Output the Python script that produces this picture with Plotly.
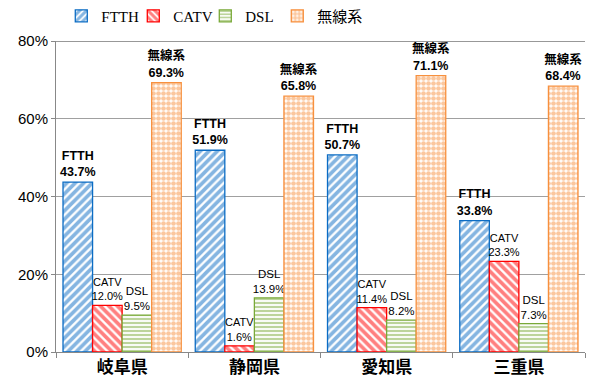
import plotly.graph_objects as go

categories = ["岐阜県", "静岡県", "愛知県", "三重県"]
ftth = [0.437, 0.519, 0.507, 0.338]
catv = [0.120, 0.016, 0.114, 0.233]
dsl = [0.095, 0.139, 0.082, 0.073]
wireless = [0.693, 0.658, 0.711, 0.684]

series = [
    ("FTTH", ftth, "#0b6cc4", "/", 12.5, True, 6, 0.62),
    ("CATV", catv, "#ff0000", "\\", 11, False, 6, 0.62),
    ("DSL", dsl, "#79a938", "-", 11.5, False, 4, 0.55),
    ("無線系", wireless, "#f7903e", ".", 12.5, True, 5, 0.7),
]

fig = go.Figure()
for name, vals, color, shape, fsize, bold, psize, psol in series:
    lab = [f"{name}<br>{v*100:.1f}%" for v in vals]
    if bold:
        lab = [f"<b>{t}</b>" for t in lab]
    fig.add_trace(go.Bar(
        name=name, x=categories, y=vals,
        text=lab, textposition="outside", cliponaxis=False, constraintext="none",
        textfont=dict(family="Arial, Noto Sans CJK JP", size=fsize, color="#000"),
        marker=dict(color="white", line=dict(color=color, width=1.3),
                    pattern=dict(shape=shape, fgcolor=color, bgcolor="white",
                                 size=psize, solidity=psol, fillmode="overlay")),
    ))
# empty spacer legend entry so the last legend label is not clipped
fig.add_trace(go.Scatter(name=" ", x=[None], y=[None], mode="markers", showlegend=True,
                         hoverinfo="skip", marker=dict(color="rgba(0,0,0,0)", size=1)))

fig.update_layout(
    width=600, height=385,
    margin=dict(l=56, r=15, t=41, b=33, autoexpand=False),
    paper_bgcolor="white", plot_bgcolor="white",
    barmode="group", bargap=0.106, bargroupgap=0,
    showlegend=True,
    legend=dict(orientation="h", x=0.01, y=1.08, xanchor="left", yanchor="middle",
                font=dict(family="Liberation Serif, Noto Sans CJK JP", size=15, color="#000"),
                itemwidth=30, tracegroupgap=0, entrywidth=27),
)
fig.update_yaxes(range=[0, 0.8], tickvals=[0, 0.2, 0.4, 0.6, 0.8], tickformat=".0%",
                 showgrid=True, gridcolor="#a0a0a0", gridwidth=1,
                 showline=True, linecolor="#888", ticks="outside", ticklen=4, tickcolor="#888",
                 tickfont=dict(family="Arial", size=15, color="#000"), zeroline=False)
fig.update_xaxes(showline=True, linecolor="#888", mirror=False, ticks="outside", tickson="boundaries",
                 ticklen=5, tickcolor="#888",
                 tickfont=dict(family="Noto Sans CJK JP", size=17, color="#000"))
fig.update_xaxes(tickvals=categories, ticktext=[f"<b>{c}</b>" for c in categories])
fig.add_shape(type="line", xref="paper", yref="y", x0=0, x1=1, y0=0.8, y1=0.8,
              line=dict(color="#333", width=1.2))
fig.write_html("out.html", config={"displayModeBar": False},
               post_script="document.body.style.margin='0px';")
